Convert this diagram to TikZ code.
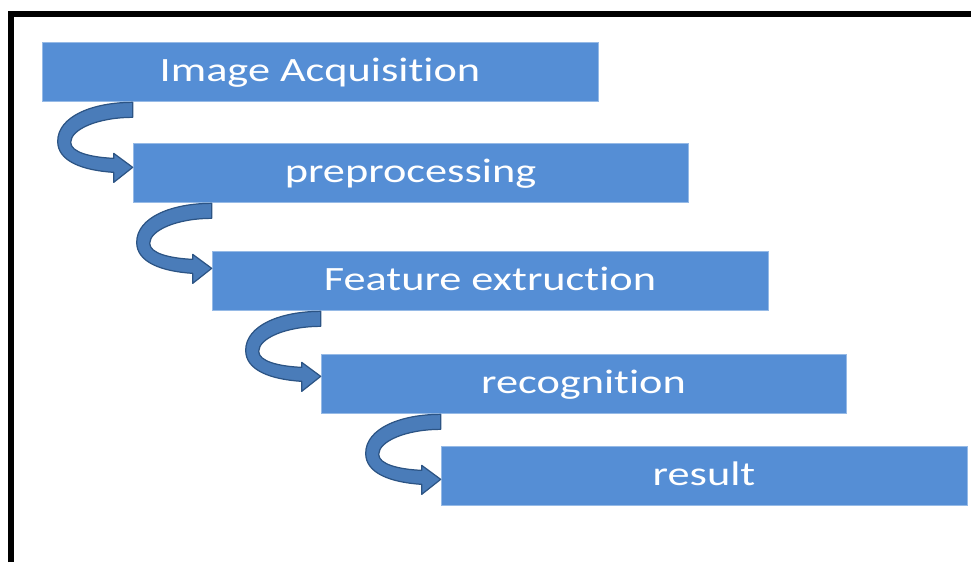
\documentclass[tikz,border=0pt]{standalone}
\usepackage{fontspec}
\newfontfamily\stepfont{Carlito}[FakeStretch=1.3, Ligatures=NoCommon]
\definecolor{boxblue}{RGB}{85, 142, 213}
\definecolor{boxedge}{RGB}{150, 186, 230}
\definecolor{arrowblue}{RGB}{74, 124, 185}
\definecolor{arrowedge}{RGB}{44, 84, 132}

% curved arrow from under box #1 into the west side of box #2
\newcommand{\stepcurve}[2]{%
  \filldraw[curvearrow, shift={(#1.south -| #2.west)}]
    (0,1) -- (0,16) .. controls (-35,16) and (-62,28) .. (-62,41)
    .. controls (-62,51) and (-42,56) .. (-19,57) -- (-19,52) -- (0,66)
    -- (-19,81) -- (-19,71) .. controls (-50,69) and (-75,60) .. (-75,40)
    .. controls (-75,15) and (-40,1) .. (0,1) -- cycle;}

\begin{document}
\begin{tikzpicture}[x=0.02cm, y=-0.02cm,
    stepbox/.style={draw=boxedge, line width=0.4pt, fill=boxblue, text=white,
      minimum height=1.18cm, text height=0.38cm, text depth=0pt, inner sep=0pt,
      font=\stepfont\fontsize{19.4}{23}\selectfont},
    curvearrow/.style={fill=arrowblue, draw=arrowedge, line width=0.7pt, line join=round}]
\useasboundingbox (0,0) rectangle (971,562);
\draw[line width=0.12cm] (11,562) -- (11,14) -- (971,14);

\node[stepbox, minimum width=11.12cm] (acq) at (320,71.5) {Image Acquisition};
\node[stepbox, minimum width=11.1cm] (pre) at (410.5,172.5) {preprocessing};
\node[stepbox, minimum width=11.12cm] (feat) at (490,280.5) {Feature extruction};
\node[stepbox, minimum width=10.5cm] (rec) at (583.5,383.5) {recognition};
\node[stepbox, minimum width=10.52cm] (res) at (704,476) {result};

\stepcurve{acq}{pre}
\stepcurve{pre}{feat}
\stepcurve{feat}{rec}
\stepcurve{rec}{res}
\end{tikzpicture}
\end{document}
